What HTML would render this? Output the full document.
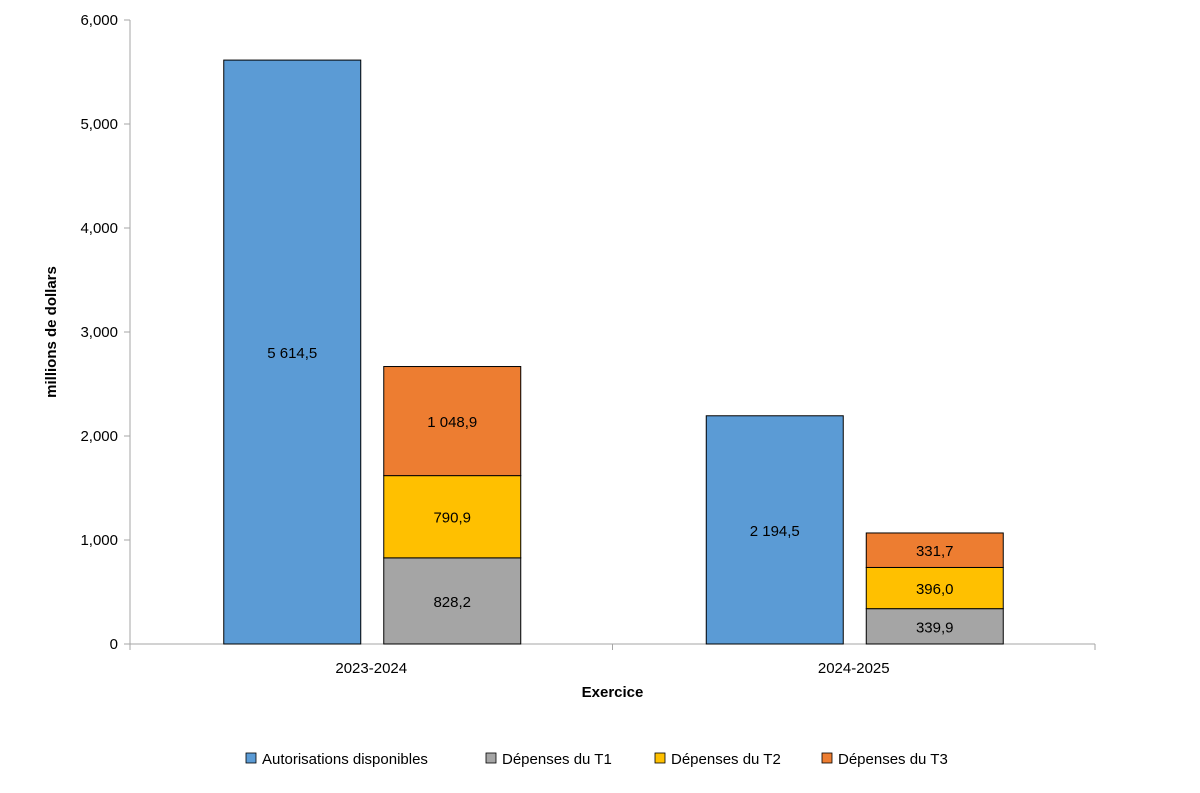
<!DOCTYPE html>
<html><head><meta charset="utf-8"><style>
body{margin:0;background:#fff}
svg text{font-family:"Liberation Sans",sans-serif;fill:#000}
</style></head><body>
<svg width="1200" height="788">
<g id="g"></g>
</svg>
<script>
const categories=["2023-2024","2024-2025"];
const authorized=[5614.5,2194.5];
const t1=[828.2,339.9];
const t2=[790.9,396.0];
const t3=[1048.9,331.7];
const yTicks=[0,1000,2000,3000,4000,5000,6000];
const yTickLabels=["0","1,000","2,000","3,000","4,000","5,000","6,000"];
const seriesNames=["Autorisations disponibles","Dépenses du T1","Dépenses du T2","Dépenses du T3"];
const colors=["#5b9bd5","#a5a5a5","#ffc000","#ed7d31"];

const NS="http://www.w3.org/2000/svg";
const g=document.getElementById('g');
const x0=130,x1=1095,y0=644,yTop=20,yMax=6000;
const y=v=>y0-(v/yMax)*(y0-yTop);
const catW=(x1-x0)/categories.length;
const cx=i=>x0+catW*(i+0.5);
function el(t,a,txt){const e=document.createElementNS(NS,t);for(const k in a)e.setAttribute(k,a[k]);if(txt!==undefined)e.textContent=txt;g.appendChild(e);return e;}
function fmt(v){let s=v.toFixed(1).replace('.',',');let [a,b]=s.split(',');a=a.replace(/\B(?=(\d{3})+(?!\d))/g,' ');return a+','+b;}

let e=el('line',{x1:x0,y1:yTop,x2:x0,y2:y0,stroke:'#a6a6a6'});

e=el('line',{x1:x0,y1:y0,x2:x1,y2:y0,stroke:'#a6a6a6'});

yTicks.forEach((t,i)=>{
 el('line',{x1:x0-6,y1:y(t),x2:x0,y2:y(t),stroke:'#a6a6a6'});
 e=el('text',{x:x0-12,y:y(t)+5,'text-anchor':'end','font-size':15},yTickLabels[i]);
 
});
for(let i=0;i<=categories.length;i++)el('line',{x1:x0+catW*i,y1:y0,x2:x0+catW*i,y2:y0+6,stroke:'#a6a6a6'});
const bw=137,gap=23;
function bar(xl,v0,v1,col,name){
 const r=el('rect',{x:xl,y:y(v1),width:bw,height:y(v0)-y(v1),fill:col,stroke:'#000','stroke-width':1});
 
 const t=el('text',{x:xl+bw/2,y:(y(v0)+y(v1))/2+6,'text-anchor':'middle','font-size':15},fmt(v1-v0));
 
}
categories.forEach((c,i)=>{
 const c0=cx(i);
 const xa=c0-bw-gap/2+1, xb=c0+gap/2+1;
 bar(xa,0,authorized[i],colors[0],'bar-authorized-'+c);
 bar(xb,0,t1[i],colors[1],'bar-t1-'+c);
 bar(xb,t1[i],t1[i]+t2[i],colors[2],'bar-t2-'+c);
 bar(xb,t1[i]+t2[i],t1[i]+t2[i]+t3[i],colors[3],'bar-t3-'+c);
 const t=el('text',{x:c0,y:y0+29,'text-anchor':'middle','font-size':15},c);
 
});
e=el('text',{x:(x0+x1)/2,y:697,'text-anchor':'middle','font-size':15,'font-weight':'bold'},'Exercice');

e=el('text',{x:0,y:0,'text-anchor':'middle','font-size':15,'font-weight':'bold',transform:'translate(56,332) rotate(-90)'},'millions de dollars');

const lx=[246,486,655,822];
seriesNames.forEach((n,i)=>{
 const r=el('rect',{x:lx[i],y:753,width:10,height:10,fill:colors[i],stroke:'#000','stroke-width':0.8});
 
 const t=el('text',{x:lx[i]+16,y:764,'font-size':15},n);
 
});
</script>
</body></html>
